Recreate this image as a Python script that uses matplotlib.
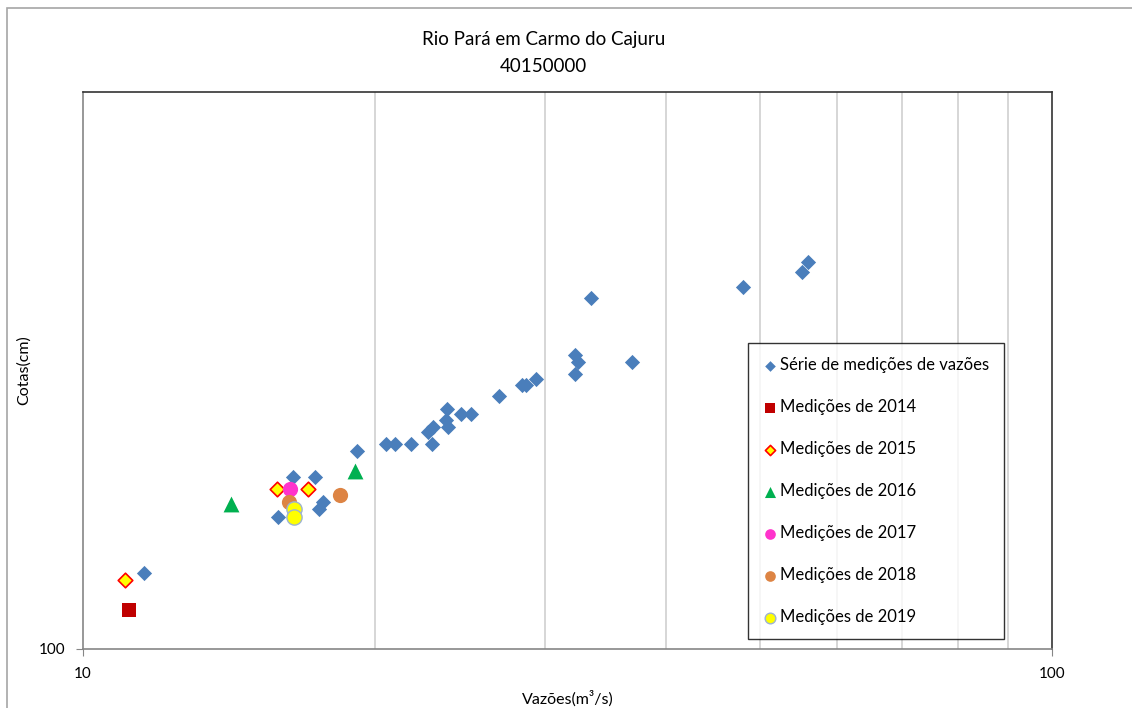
import matplotlib
matplotlib.use("Agg")
import matplotlib.pyplot as plt
from matplotlib.patches import Rectangle
from matplotlib.ticker import NullLocator, NullFormatter, FixedLocator, FixedFormatter

plt.rcParams['font.family'] = ['Lato', 'DejaVu Sans']

# serie de medicoes (vazao m3/s, cota cm)
serie_q = [11.57, 15.91, 16.47, 17.37, 17.51, 17.68, 19.16, 20.53, 20.99, 21.82,
           22.90, 22.72, 22.96, 23.71, 23.82, 23.75, 24.54, 25.14, 26.88, 28.35,
           28.64, 29.33, 32.19, 32.45, 32.21, 33.41, 36.86, 47.98, 55.21, 56.04]
serie_h = [116.1, 129.8, 140.4, 140.4, 131.7, 133.6, 147.7, 149.7, 149.7, 149.7,
           149.7, 153.4, 155.0, 157.1, 155.0, 160.6, 159.0, 159.0, 164.7, 168.3,
           168.3, 170.2, 178.5, 176.2, 172.0, 199.9, 176.2, 204.3, 210.2, 214.5]

q2014 = [11.16]
h2014 = [108.1]
q2015 = [11.05, 15.86, 17.06]
h2015 = [114.6, 137.0, 137.0]
q2016 = [14.22, 19.10]
h2016 = [133.1, 142.1]
q2017 = [16.35]
h2017 = [137.1]
q2018 = [16.30, 18.43]
h2018 = [133.7, 135.4]
q2019 = [16.52, 16.52]
h2019 = [131.7, 129.8]

fig = plt.figure(figsize=(11.32, 7.08), dpi=100)
fig.patches.append(Rectangle((6.5 / 1132, -0.1), 1.2, 1 - 8 / 708 + 0.1,
                             transform=fig.transFigure, fill=False,
                             edgecolor='#a6a6a6', lw=1.2))
ax = fig.add_axes([83 / 1132, 1 - 649 / 708, 969 / 1132, 557 / 708])

ax.scatter(serie_q, serie_h, marker='D', s=60, color='#4a7ebb', linewidths=0,
           label='Série de medições de vazões', zorder=3)
ax.scatter(q2014, h2014, marker='s', s=110, color='#c00000', linewidths=0,
           label='Medições de 2014', zorder=4)
ax.scatter(q2015, h2015, marker='D', s=55, facecolor='#ffff00', edgecolor='#ff0000',
           linewidths=1.2, label='Medições de 2015', zorder=4)
ax.scatter(q2016, h2016, marker='^', s=130, color='#00b050', linewidths=0,
           label='Medições de 2016', zorder=4)
ax.scatter(q2017, h2017, marker='o', s=120, color='#ff33cc', linewidths=0,
           label='Medições de 2017', zorder=4)
ax.scatter(q2018, h2018, marker='o', s=120, color='#dd8444', linewidths=0,
           label='Medições de 2018', zorder=4)
ax.scatter(q2019, h2019, marker='o', s=120, facecolor='#ffff00', edgecolor='#9db3d2',
           linewidths=1.0, label='Medições de 2019', zorder=5)

ax.set_xscale('log')
ax.set_yscale('log')
ax.set_xlim(10, 100)
ax.set_ylim(100, 300)

ax.xaxis.set_major_locator(FixedLocator([10, 100]))
ax.xaxis.set_major_formatter(FixedFormatter(['10', '100']))
ax.xaxis.set_minor_locator(FixedLocator([20, 30, 40, 50, 60, 70, 80, 90]))
ax.xaxis.set_minor_formatter(NullFormatter())
ax.yaxis.set_major_locator(FixedLocator([100]))
ax.yaxis.set_major_formatter(FixedFormatter(['100']))
ax.yaxis.set_minor_locator(NullLocator())
ax.yaxis.set_minor_formatter(NullFormatter())
ax.grid(True, which='minor', axis='x', color='#d0d0d0', lw=1.2)
ax.tick_params(which='major', length=5, color='#868686', labelsize=11, pad=8)
ax.tick_params(which='minor', length=0)

for s in ['top', 'right']:
    ax.spines[s].set_color('#333333')
for s in ['left', 'bottom']:
    ax.spines[s].set_color('#868686')
for s in ax.spines.values():
    s.set_linewidth(1.2)

ax.set_xlabel('Vazões(m³/s)', fontsize=11.5, labelpad=7)
ax.set_ylabel('Cotas(cm)', fontsize=11.5, labelpad=5)
fig.text(0.48, 1 - 40 / 708, 'Rio Pará em Carmo do Cajuru', ha='center', va='center', fontsize=13.5)
fig.text(0.48, 1 - 67 / 708, '40150000', ha='center', va='center', fontsize=13.5)

leg = ax.legend(loc='upper left', bbox_to_anchor=(0.686, 0.5494), fontsize=12,
                frameon=True, fancybox=False, edgecolor='black', labelspacing=1.56,
                handletextpad=0.1, handlelength=1.0, borderpad=0.85, markerscale=0.7,
                borderaxespad=0)
leg.get_frame().set_linewidth(1.0)

fig.savefig('out.png', dpi=100)
